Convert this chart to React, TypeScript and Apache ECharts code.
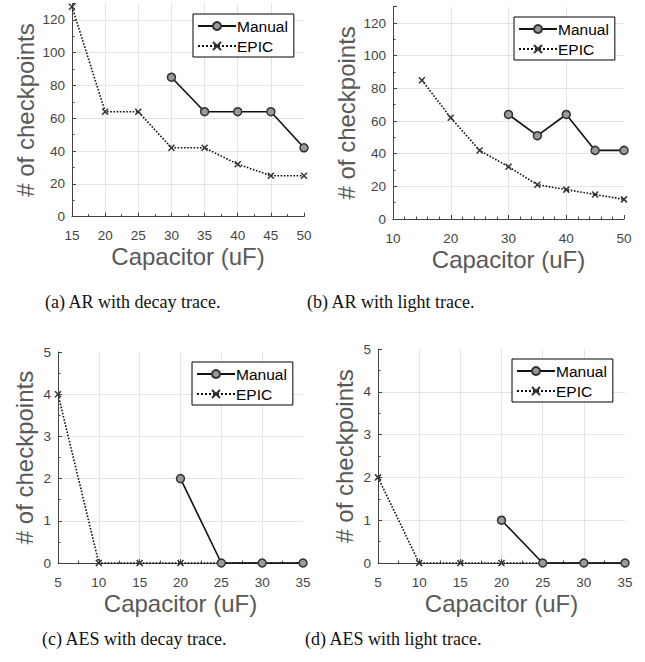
import React, { useEffect, useRef } from "react";
import * as echarts from "echarts";

// ---- data ----
const aManualX = [30, 35, 40, 45, 50];
const aManualY = [85, 64, 64, 64, 42];
const aEpicX = [15, 20, 25, 30, 35, 40, 45, 50];
const aEpicY = [128, 64, 64, 42, 42, 32, 25, 25];

const bManualX = [30, 35, 40, 45, 50];
const bManualY = [64, 51, 64, 42, 42];
const bEpicX = [15, 20, 25, 30, 35, 40, 45, 50];
const bEpicY = [85, 62, 42, 32, 21, 18, 15, 12];

const cManualX = [20, 25, 30, 35];
const cManualY = [2, 0, 0, 0];
const cEpicX = [5, 10, 15, 20, 25, 30, 35];
const cEpicY = [4, 0, 0, 0, 0, 0, 0];

const dManualX = [20, 25, 30, 35];
const dManualY = [1, 0, 0, 0];
const dEpicX = [5, 10, 15, 20, 25, 30, 35];
const dEpicY = [2, 0, 0, 0, 0, 0, 0];

const captions = [
  "(a) AR with decay trace.",
  "(b) AR with light trace.",
  "(c) AES with decay trace.",
  "(d) AES with light trace.",
];
const seriesNames = ["Manual", "EPIC"];
const xTitle = "Capacitor (uF)";
const yTitle = "# of checkpoints";

const zip = (xs: number[], ys: number[]) => xs.map((x, i) => [x, ys[i]]);

const FONT = "Liberation Sans, Arial, sans-serif";
const SERIF = "Liberation Serif, Times New Roman, serif";
const CROSS = "path://M0,0L10,10M10,0L0,10";

const panels = [
  {
    grid: { left: 72, top: 3.4, width: 232, height: 213.3 },
    x: { min: 15, max: 50, interval: 5, minor: 2 },
    y: { max: 130, interval: 20, minor: 2 },
    yGap: 35,
    legend: { left: 193, top: 14 },
    caption: { x: 45, y: 303 },
    manual: zip(aManualX, aManualY),
    epic: zip(aEpicX, aEpicY),
  },
  {
    grid: { left: 393, top: 6.7, width: 231, height: 212.3 },
    x: { min: 10, max: 50, interval: 10, minor: 5 },
    y: { max: 130, interval: 20, minor: 2 },
    yGap: 35,
    legend: { left: 514, top: 17 },
    caption: { x: 307, y: 303 },
    manual: zip(bManualX, bManualY),
    epic: zip(bEpicX, bEpicY),
  },
  {
    grid: { left: 58, top: 352, width: 245, height: 211 },
    x: { min: 5, max: 35, interval: 5, minor: 2 },
    y: { max: 5, interval: 1, minor: 2 },
    yGap: 22,
    legend: { left: 192, top: 362 },
    caption: { x: 42, y: 640 },
    manual: zip(cManualX, cManualY),
    epic: zip(cEpicX, cEpicY),
  },
  {
    grid: { left: 378, top: 349, width: 247, height: 214 },
    x: { min: 5, max: 35, interval: 5, minor: 2 },
    y: { max: 5, interval: 1, minor: 2 },
    yGap: 22,
    legend: { left: 512, top: 359 },
    caption: { x: 305, y: 640 },
    manual: zip(dManualX, dManualY),
    epic: zip(dEpicX, dEpicY),
  },
];

export default function App() {
  const ref = useRef<HTMLDivElement>(null);
  useEffect(() => {
    document.body.style.margin = "0";
    if (!ref.current) return;
    const chart = echarts.init(ref.current, null, { renderer: "svg" });

    const axisLineStyle = { color: "#444", width: 1 };
    const gridLine = { show: true, lineStyle: { color: "#e4e4e4", width: 1 }, showMaxLine: false } as any;

    const option: any = {
      animation: false,
      backgroundColor: "#fff",
      textStyle: { fontFamily: FONT },
      grid: panels.map((p) => ({ ...p.grid, containLabel: false })),
      xAxis: panels.map((p, i) => ({
        type: "value",
        gridIndex: i,
        min: p.x.min,
        max: p.x.max,
        interval: p.x.interval,
        name: xTitle,
        nameLocation: "middle",
        nameGap: 28,
        nameTextStyle: { fontSize: 24, color: "#595959", fontFamily: FONT },
        axisLine: { show: true, onZero: false, lineStyle: axisLineStyle },
        axisTick: { show: true, inside: true, length: 4, lineStyle: { color: "#444" } },
        minorTick: { show: true, splitNumber: p.x.minor, length: 2.5, lineStyle: { color: "#444" } },
        axisLabel: { fontSize: 13.5, color: "#444", margin: 12, fontFamily: FONT },
        splitLine: gridLine,
      })),
      yAxis: panels.map((p, i) => ({
        type: "value",
        gridIndex: i,
        min: 0,
        max: p.y.max,
        interval: p.y.interval,
        name: yTitle,
        nameLocation: "middle",
        nameGap: p.yGap,
        nameTextStyle: { fontSize: 24, color: "#595959", fontFamily: FONT },
        axisLine: { show: true, onZero: false, lineStyle: axisLineStyle },
        axisTick: { show: true, inside: true, length: 4, lineStyle: { color: "#444" } },
        minorTick: { show: true, splitNumber: p.y.minor, length: 2.5, lineStyle: { color: "#444" } },
        axisLabel: { fontSize: 13.5, color: "#444", margin: 7, showMaxLabel: p.y.max === 130 ? false : true, fontFamily: FONT },
        splitLine: gridLine,
      })),
      legend: panels.map((p) => ({
        data: seriesNames,
        orient: "vertical",
        left: p.legend.left,
        top: p.legend.top,
        backgroundColor: "#fff",
        borderColor: "#000",
        borderWidth: 1,
        borderRadius: 0,
        padding: [4, 6, 3, 4],
        itemGap: 4,
        itemWidth: 38,
        itemHeight: 10,
        selectedMode: false,
        textStyle: { fontSize: 15.5, color: "#000", fontFamily: FONT, padding: [0, 0, 0, -4] },
      })),
      series: panels.flatMap((p, i) => [
        {
          type: "line",
          name: "EPIC",
          xAxisIndex: i,
          yAxisIndex: i,
          data: p.epic,
          clip: false,
          symbol: CROSS,
          symbolSize: 6,
          showAllSymbol: true,
          lineStyle: { type: "dotted", width: 1.6, color: "#111" },
          itemStyle: { color: "#fff", borderColor: "#333", borderWidth: 1.5 },
          z: 2,
        },
        {
          type: "line",
          name: "Manual",
          xAxisIndex: i,
          yAxisIndex: i,
          data: p.manual,
          clip: false,
          symbol: "circle",
          symbolSize: 8,
          showAllSymbol: true,
          lineStyle: { type: "solid", width: 1.6, color: "#111" },
          itemStyle: { color: "#9a9a9a", borderColor: "#333", borderWidth: 1.5 },
          z: 3,
        },
      ]),
      graphic: panels.map((p, i) => ({
        type: "text",
        left: p.caption.x,
        top: p.caption.y - 10,
        style: {
          text: captions[i],
          fontSize: 18,
          fontFamily: SERIF,
          fill: "#111",
        },
      })),
    };
    chart.setOption(option);
    return () => chart.dispose();
  }, []);
  return <div ref={ref} style={{ width: 645, height: 662 }} />;
}
